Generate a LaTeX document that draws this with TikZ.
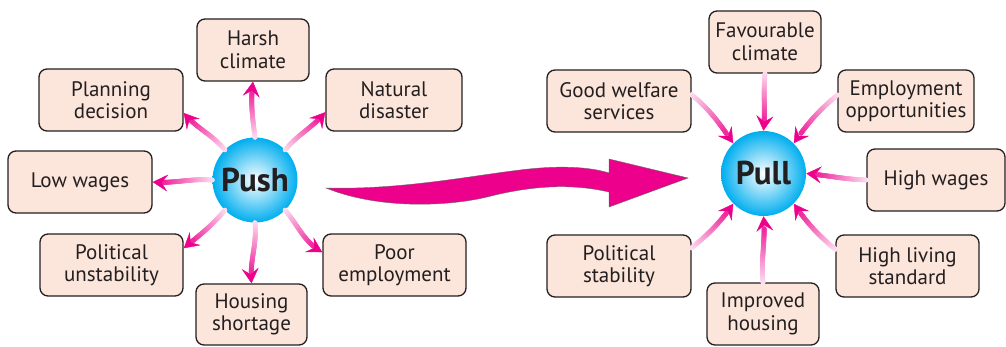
\documentclass[tikz,border=0pt]{standalone}
\usepackage{fontspec}
\setmainfont{PT Sans}
\usetikzlibrary{decorations.markings,arrows.meta}
\definecolor{mag}{RGB}{236,0,140}
\definecolor{boxfill}{RGB}{252,229,218}
\definecolor{boxline}{RGB}{35,31,32}
\definecolor{ballcyan}{RGB}{0,174,239}
\begin{document}
\begin{tikzpicture}[x=1pt,y=1pt,
  box/.style={draw=boxline, line width=1.3pt, fill=boxfill, rounded corners=8pt,
    minimum height=62pt, align=center, font=\fontsize{21}{22.5}\selectfont,
    text=boxline, inner sep=0pt},
  ball/.style={circle, minimum size=85pt, inner sep=0pt, inner color=white,
    outer color=ballcyan, font=\bfseries\fontsize{33}{34}\selectfont, text=boxline},
  gradarrow/.style={draw=none,
    decoration={markings,
      mark=between positions 0 and 0.82 step 0.7pt with {
        \pgfmathtruncatemacro\pct{12+88*\pgfkeysvalueof{/pgf/decoration/mark info/distance from start}/\pgfdecoratedpathlength}
        \fill[mag!\pct!white] (0,0) circle (2.5pt);
      },
      mark=at position 1 with {\arrow[mag]{Stealth[length=15pt,width=17pt,inset=6pt]}}
    },
    postaction=decorate}
]
\useasboundingbox (0,0) rectangle (1006,346);

% Push side
\node[ball] (push) at (255,166) {Push};
\node[box, minimum width=112pt] (harsh) at (253,296) {Harsh\\climate};
\node[box, minimum width=144pt] (planning) at (111,246) {Planning\\decision};
\node[box, minimum width=136pt] (natural) at (394,246) {Natural\\disaster};
\node[box, minimum width=144pt] (lowwages) at (80,164) {Low wages};
\node[box, minimum width=143pt] (polun) at (111.5,81) {Political\\unstability};
\node[box, minimum width=111pt, minimum height=61pt] (housing) at (251.5,31.5) {Housing\\shortage};
\node[box, minimum width=143pt] (poor) at (394.5,81) {Poor\\employment};

% Pull side
\node[ball] (pull) at (763.5,172.5) {Pull};
\node[box, minimum width=112pt] (fav) at (765,304) {Favourable\\climate};
\node[box, minimum width=144pt] (good) at (619,245) {Good welfare\\services};
\node[box, minimum width=136pt] (emp) at (906,245) {Employment\\opportunities};
\node[box, minimum width=138pt] (highw) at (936,166) {High wages};
\node[box, minimum width=144pt] (polst) at (619,80) {Political\\stability};
\node[box, minimum width=112pt] (improved) at (763,32) {Improved\\housing};
\node[box, minimum width=143pt] (highliv) at (907.5,80) {High living\\standard};

% Push arrows
\path[gradarrow] (push.90) to[out=97,in=-97] (harsh.south);
\path[gradarrow] (push.135) to[out=130,in=-50] (planning.-10);
\path[gradarrow] (push.45) to[out=50,in=-130] (natural.190);
\path[gradarrow] (push.180) to[out=176,in=-4] (lowwages.east);
\path[gradarrow] (push.225) to[out=230,in=40] (polun.13);
\path[gradarrow] (push.270) to[out=-85,in=95] (housing.north);
\path[gradarrow] (push.315) to[out=-50,in=150] (poor.170);

% Pull arrows
\path[gradarrow] (fav.south) to[out=-95,in=85] (pull.90);
\path[gradarrow] (good.5) to[out=-40,in=125] (pull.135);
\path[gradarrow] (emp.175) to[out=-140,in=55] (pull.45);
\path[gradarrow] (highw.west) to[out=178,in=-5] (pull.0);
\path[gradarrow] (polst.14) to[out=40,in=-125] (pull.225);
\path[gradarrow] (improved.north) to[out=95,in=-85] (pull.270);
\path[gradarrow] (highliv.167) to[out=140,in=-55] (pull.315);

% Big wavy arrow
\filldraw[fill=mag, draw=black!60, line width=0.4pt]
  (326,158) .. controls (400,156) and (470,170) .. (520,176)
  .. controls (560,181) and (590,179) .. (609,173)
  -- (609,187) -- (688,168) -- (609,139) -- (609,154)
  .. controls (570,163) and (530,160) .. (487,149)
  .. controls (450,140) and (380,136) .. (326,158) -- cycle;
\end{tikzpicture}
\end{document}
